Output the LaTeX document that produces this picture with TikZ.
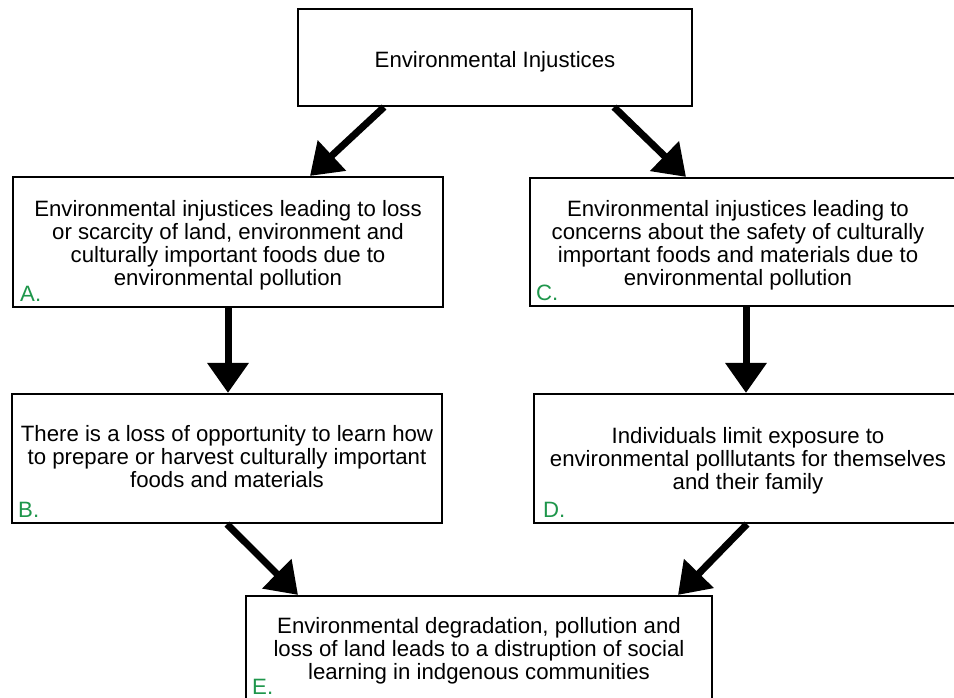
\documentclass[tikz,border=0pt]{standalone}
\usepackage{fontspec}
\setmainfont{Liberation Sans}
\usetikzlibrary{arrows.meta,calc}
\definecolor{labelgreen}{RGB}{30,150,75}
\begin{document}
\begin{tikzpicture}[x=1pt,y=-1pt,
  box/.style={draw=black, line width=2.2pt, fill=white, rectangle, inner sep=0pt},
  txt/.style={align=center, inner sep=0pt, font=\fontsize{22.2}{23}\selectfont},
  tag/.style={anchor=base west, inner sep=0pt, text=labelgreen, font=\fontsize{22.2}{23}\selectfont},
  flow/.style={line width=7pt, -{Triangle[length=30pt,width=40pt]}}]
\useasboundingbox (0,0) rectangle (954,698);

% boxes
\node[box, minimum width=394pt, minimum height=97pt]  (top) at (495,57.5) {};
\node[box, minimum width=430pt, minimum height=130pt] (A)   at (228,242) {};
\node[box, minimum width=450pt, minimum height=128pt] (C)   at (755,242) {};
\node[box, minimum width=430pt, minimum height=129pt] (B)   at (227,458.5) {};
\node[box, minimum width=446pt, minimum height=129pt] (D)   at (757,458.5) {};
\node[box, minimum width=466pt, minimum height=124pt] (E)   at (479,658) {};

% box texts
\node[txt] (topT) at (495,61.4) {Environmental Injustices};
\node[txt] (AT) at (228,244.9) {Environmental injustices leading to loss\\or scarcity of land, environment and\\culturally important foods due to\\environmental pollution};
\node[txt] (CT) at (738,244.9) {Environmental injustices leading to\\concerns about the safety of culturally\\important foods and materials due to\\environmental pollution};
\node[txt] (BT) at (227,456.8) {There is a loss of opportunity to learn how\\to prepare or harvest culturally important\\foods and materials};
\node[txt] (DT) at (748,460.7) {Individuals limit exposure to\\environmental polllutants for themselves\\and their family};
\node[txt] (ET) at (479,650.4) {Environmental degradation, pollution and\\loss of land leads to a distruption of social\\learning in indgenous communities};

% corner letters
\node[tag] (Alab) at (20,301) {A.};
\node[tag] (Clab) at (536,300) {C.};
\node[tag] (Blab) at (18,517) {B.};
\node[tag] (Dlab) at (543,517) {D.};
\node[tag] (Elab) at (252,694) {E.};

% arrows
\draw[flow] ($(top.south)+(-111,0)$) -- ($(A.north)+(82,0)$);
\draw[flow] ($(top.south)+(119,0)$) -- ($(C.north)+(-69,0)$);
\draw[flow] (A.south) -- (A.south |- B.north);
\draw[flow] ($(C.south)+(-9,0)$) -- ($(C.south |- D.north)+(-9,0)$);
\draw[flow] (B.south) -- ($(E.north)+(-181,0)$);
\draw[flow] ($(D.south)+(-10,0)$) -- ($(E.north)+(199,0)$);
\end{tikzpicture}
\end{document}
